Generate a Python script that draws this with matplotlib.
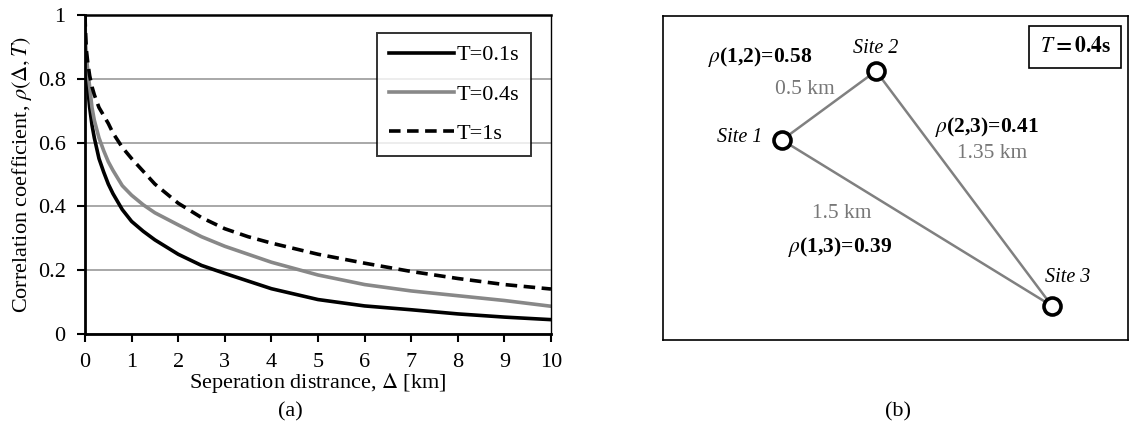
import matplotlib.pyplot as plt
import numpy as np

plt.rcParams['font.family'] = ['Liberation Serif', 'DejaVu Serif']
plt.rcParams['mathtext.fontset'] = 'stix'

# Datos (a)
dist = [0, 0.01, 0.03, 0.06, 0.1, 0.15, 0.2, 0.3, 0.4, 0.5, 0.6, 0.8, 1.0, 1.25, 1.5,
        2, 2.5, 3, 3.5, 4, 5, 6, 7, 8, 9, 10]
rho_t01 = [1.0, 0.87, 0.815, 0.77, 0.71, 0.655, 0.615, 0.55, 0.508, 0.47, 0.44, 0.39,
           0.353, 0.322, 0.295, 0.25, 0.215, 0.19, 0.166, 0.142, 0.108, 0.088, 0.076,
           0.063, 0.053, 0.045]
rho_t04 = [1.0, 0.905, 0.87, 0.825, 0.775, 0.71, 0.67, 0.615, 0.575, 0.54, 0.513, 0.465,
           0.435, 0.405, 0.38, 0.342, 0.305, 0.275, 0.25, 0.225, 0.185, 0.155, 0.135,
           0.12, 0.105, 0.087]
rho_t1 = [1.0, 0.95, 0.89, 0.85, 0.81, 0.775, 0.75, 0.71, 0.685, 0.66, 0.63, 0.585,
          0.55, 0.51, 0.47, 0.41, 0.365, 0.33, 0.305, 0.285, 0.25, 0.222, 0.196, 0.174,
          0.155, 0.141]
etiquetas = ['T=0.1s', 'T=0.4s', 'T=1s']

# Datos del esquema (b): posiciones de los sitios (px dentro del recuadro)
site_x = [119, 213, 389]
site_y = [124, 55, 290]
site_names = ['Site 1', 'Site 2', 'Site 3']
pares = [(0, 1), (1, 2), (0, 2)]
distancias = ['0.5 km', '1.35 km', '1.5 km']
correlaciones = ['0.58', '0.41', '0.39']

fig = plt.figure(figsize=(11.3, 4.29), dpi=100)

# ---------- (a) ----------
ax = fig.add_axes([85/1130, 1-334/429, (551-85)/1130, (334-15)/429])
ax.plot(dist, rho_t01, color='black', lw=2.6, label=etiquetas[0])
ax.plot(dist, rho_t04, color='#888888', lw=2.6, label=etiquetas[1])
ax.plot(dist, rho_t1, color='black', lw=2.6, ls=(0, (3.2, 1.8)), label=etiquetas[2])
ax.set_xlim(0, 10)
ax.set_ylim(0, 1)
ax.set_xticks(range(0, 11))
ax.set_yticks([0, 0.2, 0.4, 0.6, 0.8, 1])
ax.set_yticklabels(['0', '0.2', '0.4', '0.6', '0.8', '1'])
ax.yaxis.grid(True, color='#999999', lw=1.2)
ax.set_axisbelow(True)
ax.tick_params(labelsize=16, length=6, width=1.5, direction='out', colors='black')
ax.tick_params(axis='y', pad=8)
ax.tick_params(axis='x', pad=8)
for s in ['left', 'bottom']:
    ax.spines[s].set_linewidth(2)
ax.spines['top'].set_linewidth(1.8)
ax.spines['right'].set_linewidth(1)
ax.set_xlabel('Seperation distrance, $\\mathit{\\Delta}$ [km]', fontsize=16, labelpad=-1)
ax.set_ylabel('Correlation coefficient, $\\rho(\\mathit{\\Delta},T)$', fontsize=16, labelpad=3)
leg = ax.legend(loc='upper left', bbox_to_anchor=(0.627, 0.945), fontsize=16,
                frameon=True, fancybox=False, handlelength=2.9, labelspacing=0.85,
                borderpad=0.55, handletextpad=0.1, borderaxespad=0)
leg.get_frame().set_edgecolor('black')
leg.get_frame().set_linewidth(1.4)
fig.text(290/1130, 1-412/429, '(a)', fontsize=16, ha='center', va='center')

# ---------- (b) ----------
bx = fig.add_axes([663/1130, 1-340/429, (1128-663)/1130, (340-16)/429])
bx.set_xlim(0, 465)
bx.set_ylim(324, 0)
bx.set_xticks([])
bx.set_yticks([])
for s in bx.spines.values():
    s.set_linewidth(1.2)

for i, j in pares:
    bx.plot([site_x[i], site_x[j]], [site_y[i], site_y[j]], color='#808080', lw=1.8, zorder=1)
bx.scatter(site_x, site_y, s=150, facecolor='white', edgecolor='black', linewidth=2.6, zorder=3)

# etiquetas de sitios
bx.text(site_x[0] - 42, site_y[0] - 2, site_names[0], fontsize=14.5, style='italic', ha='center', va='center')
bx.text(site_x[1], site_y[1] - 23, site_names[1], fontsize=14.5, style='italic', ha='center', va='center')
bx.text(site_x[2] + 16, site_y[2] - 28, site_names[2], fontsize=14.5, style='italic', ha='center', va='center')

# distancias
bx.text(142, 73, distancias[0], fontsize=15.5, color='#777777', ha='center', va='center')
bx.text(329, 138, distancias[1], fontsize=15.5, color='#777777', ha='center', va='center')
bx.text(179, 197, distancias[2], fontsize=15.5, color='#777777', ha='center', va='center')

# correlaciones
bx.text(97, 41, '$\\rho$(1,2)=' + correlaciones[0], fontsize=15.5, fontweight='bold', ha='center', va='center')
bx.text(324, 111, '$\\rho$(2,3)=' + correlaciones[1], fontsize=15.5, fontweight='bold', ha='center', va='center')
bx.text(177, 231, '$\\rho$(1,3)=' + correlaciones[2], fontsize=15.5, fontweight='bold', ha='center', va='center')

bx.text(412, 31, '$\\mathbf{\\mathit{T}}$$\\mathbf{=0.4}$s', fontsize=15.5, fontweight='bold', ha='center', va='center',
        bbox=dict(boxstyle='square,pad=0.5', facecolor='white', edgecolor='black', lw=1.2))

fig.text(898/1130, 1-412/429, '(b)', fontsize=16, ha='center', va='center')

fig.savefig('out.png', dpi=100)
